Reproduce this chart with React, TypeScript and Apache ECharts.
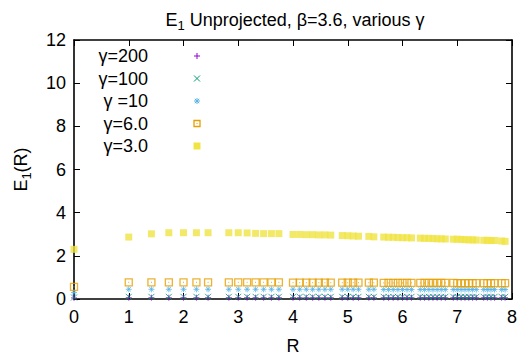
import React, { useEffect, useRef } from "react";
import * as echarts from "echarts";

const rValues = [0, 1, 1.414, 1.732, 2, 2.236, 2.449, 2.828, 3, 3.162, 3.317, 3.464, 3.606, 3.742, 4, 4.123, 4.243, 4.359, 4.472, 4.583, 4.69, 4.899, 5, 5.099, 5.196, 5.385, 5.477, 5.657, 5.745, 5.831, 5.916, 6, 6.083, 6.164, 6.325, 6.403, 6.481, 6.557, 6.633, 6.708, 6.782, 6.928, 7, 7.071, 7.141, 7.211, 7.28, 7.348, 7.483, 7.55, 7.616, 7.681, 7.81, 7.874];

const gamma3 = [2.3, 2.87, 3.02, 3.07, 3.07, 3.07, 3.07, 3.07, 3.07, 3.06, 3.04, 3.03, 3.03, 3.03, 2.99, 2.99, 2.98, 2.98, 2.97, 2.97, 2.96, 2.94, 2.93, 2.92, 2.91, 2.9, 2.88, 2.87, 2.86, 2.86, 2.85, 2.84, 2.84, 2.83, 2.82, 2.81, 2.81, 2.8, 2.79, 2.79, 2.78, 2.77, 2.77, 2.76, 2.75, 2.74, 2.74, 2.73, 2.72, 2.72, 2.71, 2.71, 2.69, 2.67];
const gamma6 = [0.56, 0.77, 0.77, 0.77, 0.77, 0.77, 0.77, 0.77, 0.77, 0.77, 0.77, 0.77, 0.77, 0.77, 0.76, 0.76, 0.76, 0.76, 0.76, 0.76, 0.76, 0.76, 0.76, 0.76, 0.76, 0.76, 0.76, 0.75, 0.75, 0.75, 0.75, 0.75, 0.75, 0.75, 0.75, 0.75, 0.75, 0.75, 0.75, 0.75, 0.75, 0.75, 0.74, 0.74, 0.74, 0.74, 0.74, 0.74, 0.74, 0.74, 0.74, 0.74, 0.74, 0.74];
const gamma10 = [0.3, 0.45, 0.45, 0.45, 0.45, 0.45, 0.45, 0.45, 0.45, 0.45, 0.45, 0.45, 0.45, 0.45, 0.45, 0.45, 0.45, 0.45, 0.45, 0.45, 0.45, 0.45, 0.45, 0.45, 0.45, 0.45, 0.45, 0.44, 0.44, 0.44, 0.44, 0.44, 0.44, 0.44, 0.44, 0.44, 0.44, 0.44, 0.44, 0.44, 0.44, 0.44, 0.44, 0.44, 0.44, 0.44, 0.44, 0.44, 0.44, 0.44, 0.44, 0.44, 0.44, 0.44];
const gamma100 = [0.07, 0.1, 0.1, 0.1, 0.1, 0.1, 0.1, 0.1, 0.1, 0.1, 0.1, 0.1, 0.1, 0.1, 0.1, 0.1, 0.1, 0.1, 0.1, 0.1, 0.1, 0.1, 0.1, 0.1, 0.1, 0.1, 0.1, 0.1, 0.1, 0.1, 0.1, 0.1, 0.1, 0.1, 0.1, 0.1, 0.1, 0.1, 0.1, 0.1, 0.1, 0.1, 0.1, 0.1, 0.1, 0.1, 0.1, 0.1, 0.1, 0.1, 0.1, 0.1, 0.1, 0.1];
const gamma200 = [0.05, 0.06, 0.06, 0.06, 0.06, 0.06, 0.06, 0.06, 0.06, 0.06, 0.06, 0.06, 0.06, 0.06, 0.06, 0.06, 0.06, 0.06, 0.06, 0.06, 0.06, 0.06, 0.06, 0.06, 0.06, 0.06, 0.06, 0.06, 0.06, 0.06, 0.06, 0.06, 0.06, 0.06, 0.06, 0.06, 0.06, 0.06, 0.06, 0.06, 0.06, 0.06, 0.06, 0.06, 0.06, 0.06, 0.06, 0.06, 0.06, 0.06, 0.06, 0.06, 0.06, 0.06];

const legendLabels = ["γ=200", "γ=100", "γ =10", "γ=6.0", "γ=3.0"];
const xTicks = [0, 1, 2, 3, 4, 5, 6, 7, 8];
const yTicks = [0, 2, 4, 6, 8, 10, 12];

const COLORS = ["#9400d3", "#009e73", "#56b4e9", "#e69f00", "#f0e442"];
const FONT = "Liberation Sans, Arial, sans-serif";
const FS = 18;

const PLUS = "path://M5,0L5,10M0,5L10,5";
const CROSS = "path://M0,0L10,10M10,0L0,10";
const STAR = "path://M5,0L5,10M0,5L10,5M1.5,1.5L8.5,8.5M8.5,1.5L1.5,8.5";
const OPENSQ = "path://M0,0L10,0L10,10L0,10Z M4.4,5L5.6,5";

const seriesData = [gamma200, gamma100, gamma10, gamma6, gamma3];
const symbols = [PLUS, CROSS, STAR, OPENSQ, "rect"];

function legendMarker(i: number, cx: number, cy: number): any {
  const c = COLORS[i];
  const h = 3;
  const ls = { stroke: c, lineWidth: 1 };
  if (i === 0)
    return { type: "group", children: [
      { type: "line", shape: { x1: cx - h, y1: cy, x2: cx + h, y2: cy }, style: ls },
      { type: "line", shape: { x1: cx, y1: cy - h, x2: cx, y2: cy + h }, style: ls },
    ] };
  if (i === 1)
    return { type: "group", children: [
      { type: "line", shape: { x1: cx - h, y1: cy - h, x2: cx + h, y2: cy + h }, style: ls },
      { type: "line", shape: { x1: cx + h, y1: cy - h, x2: cx - h, y2: cy + h }, style: ls },
    ] };
  if (i === 2)
    return { type: "group", children: [
      { type: "line", shape: { x1: cx - h, y1: cy, x2: cx + h, y2: cy }, style: ls },
      { type: "line", shape: { x1: cx, y1: cy - h, x2: cx, y2: cy + h }, style: ls },
      { type: "line", shape: { x1: cx - 2.2, y1: cy - 2.2, x2: cx + 2.2, y2: cy + 2.2 }, style: ls },
      { type: "line", shape: { x1: cx + 2.2, y1: cy - 2.2, x2: cx - 2.2, y2: cy + 2.2 }, style: ls },
    ] };
  if (i === 3)
    return { type: "group", children: [
      { type: "rect", shape: { x: cx - 3, y: cy - 3, width: 6, height: 6 }, style: { fill: "none", stroke: c, lineWidth: 1.3 } },
      { type: "rect", shape: { x: cx - 0.5, y: cy - 0.5, width: 1, height: 1 }, style: { fill: c } },
    ] };
  return { type: "rect", shape: { x: cx - 3.5, y: cy - 3.5, width: 7, height: 7 }, style: { fill: c } };
}

const richText = {
  a: { fontFamily: FONT, fontSize: FS, fontWeight: "normal", color: "#000", lineHeight: 24, verticalAlign: "middle" },
  s: { fontFamily: FONT, fontSize: 13, fontWeight: "normal", color: "#000", lineHeight: 13, verticalAlign: "bottom" },
};

export default function App() {
  const ref = useRef<HTMLDivElement>(null);
  useEffect(() => {
    if (!ref.current) return;
    const chart = echarts.init(ref.current, null, { renderer: "svg" });
    const legendRows = [56, 78.5, 101, 123.5, 146];
    const graphics: any[] = [];
    legendLabels.forEach((lab, i) => {
      graphics.push({
        type: "text", x: 148, y: legendRows[i],
        style: { text: lab, fill: "#000", font: `${FS}px ${FONT}`, textAlign: "right", textVerticalAlign: "middle" },
      });
      graphics.push(legendMarker(i, 197, legendRows[i]));
    });

    const axisCommon = {
      type: "value" as const,
      axisLine: { show: true, onZero: false, lineStyle: { color: "#000", width: 1.6 } },
      axisTick: { show: true, inside: true, length: 6, lineStyle: { color: "#000", width: 1 } },
      splitLine: { show: false },
    };

    chart.setOption({
      animation: false,
      backgroundColor: "#fff",
      title: {
        text: "{a|E}{s|1}{a| Unprojected, β=3.6, various γ}",
        left: 290, top: 3, textAlign: "center",
        textStyle: { fontWeight: "normal", rich: richText },
      },
      grid: { left: 74, right: 17, top: 40, bottom: 57, show: false },
      xAxis: [
        {
          ...axisCommon, position: "bottom", min: 0, max: 8, interval: 1,
          name: "R", nameLocation: "middle", nameGap: 38,
          nameTextStyle: { fontFamily: FONT, fontSize: FS, color: "#000" },
          axisLabel: { fontFamily: FONT, fontSize: FS, color: "#000", margin: 9,
            formatter: (v: number) => (xTicks.includes(v) ? String(v) : "") },
        },
        { ...axisCommon, position: "top", min: 0, max: 8, interval: 1, axisLabel: { show: false } },
      ],
      yAxis: [
        {
          ...axisCommon, position: "left", min: 0, max: 12, interval: 2,
          name: "{a|E}{s|1}{a|(R)}", nameLocation: "middle", nameGap: 41, nameRotate: 90,
          nameTextStyle: { rich: richText },
          axisLabel: { fontFamily: FONT, fontSize: FS, color: "#000", margin: 8,
            formatter: (v: number) => (yTicks.includes(v) ? String(v) : "") },
        },
        { ...axisCommon, position: "right", min: 0, max: 12, interval: 2, axisLabel: { show: false } },
      ],
      graphic: graphics,
      series: seriesData.map((vals, i) => ({
        type: "scatter",
        name: legendLabels[i],
        xAxisIndex: 0,
        yAxisIndex: 0,
        symbol: symbols[i],
        symbolSize: i >= 3 ? 7 : 6,
        itemStyle: i === 4
          ? { color: COLORS[i] }
          : { color: "transparent", borderColor: COLORS[i], borderWidth: i === 3 ? 1.3 : 1 },
        data: rValues.map((r, k) => [r, vals[k]]),
        z: 2 + i,
      })),
    });
    return () => chart.dispose();
  }, []);
  return <div ref={ref} style={{ position: "absolute", left: 0, top: 0, width: 529, height: 360 }} />;
}
